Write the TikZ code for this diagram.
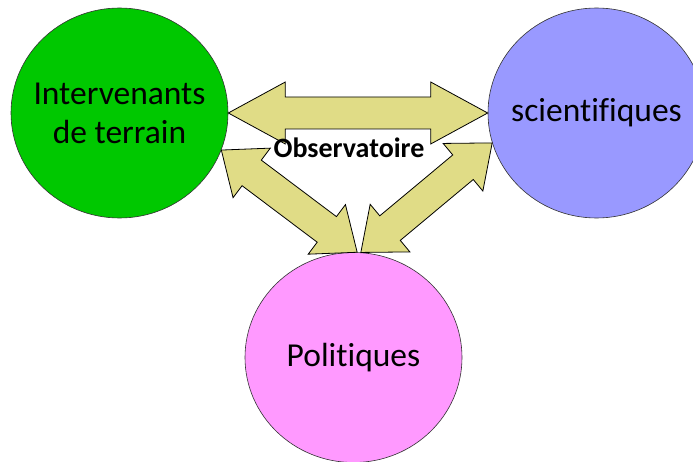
\documentclass[tikz,border=0pt]{standalone}
\usepackage{fontspec}
\setmainfont{Carlito}[Ligatures=NoCommon]
\usetikzlibrary{shapes.geometric,calc}
\definecolor{terrainvert}{RGB}{0,200,0}
\definecolor{scibleu}{RGB}{153,153,255}
\definecolor{polrose}{RGB}{255,153,255}
\definecolor{flechejaune}{RGB}{224,220,134}
\newcommand\bothways[3]{%
	\filldraw[arrowbody] (#1)
		-- ($($(#1)!#3!(#2)$)!31pt!90:(#2)$)
		-- ($($(#1)!#3!(#2)$)!16pt!90:(#2)$)
		-- ($($(#2)!#3!(#1)$)!16pt!-90:(#1)$)
		-- ($($(#2)!#3!(#1)$)!31pt!-90:(#1)$)
		-- (#2)
		-- ($($(#2)!#3!(#1)$)!31pt!90:(#1)$)
		-- ($($(#2)!#3!(#1)$)!16pt!90:(#1)$)
		-- ($($(#1)!#3!(#2)$)!16pt!-90:(#2)$)
		-- ($($(#1)!#3!(#2)$)!31pt!-90:(#2)$)
		-- cycle;}
\begin{document}
\begin{tikzpicture}[x=1pt,y=-1pt,
		bubble/.style={ellipse,draw=black!80,line width=0.6pt,minimum width=217pt,minimum height=210pt,inner sep=0pt},
		bubbletext/.style={font=\fontsize{33.5}{39}\selectfont,align=center},
		arrowbody/.style={fill=flechejaune,draw=black,line width=0.8pt,line join=miter}]
	\useasboundingbox (0,0) rectangle (693,462);
	\clip (0,0) rectangle (693,462);
	\node[bubble,fill=terrainvert,label={[bubbletext]center:Intervenants\\de terrain}] (terrain) at (119.5,113) {};
	\node[bubble,fill=scibleu,label={[bubbletext]center:scientifiques}] (sci) at (596.5,113) {};
	\node[bubble,fill=polrose,label={[bubbletext]center:Politiques}] (pol) at (353.5,357.5) {};
	\bothways{terrain.east}{sci.west}{57pt}
	\bothways{terrain.-20}{pol.88}{38pt}
	\bothways{sci.196}{pol.86}{38pt}
	\node[font=\fontsize{28}{32}\selectfont\bfseries] (obs) at (349,148) {Observatoire};
\end{tikzpicture}
\end{document}
